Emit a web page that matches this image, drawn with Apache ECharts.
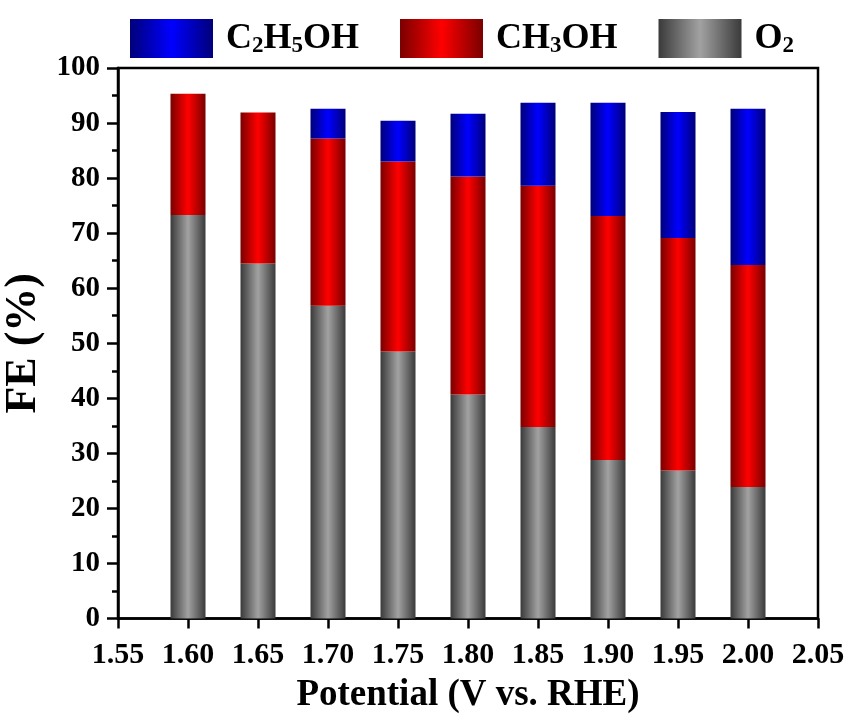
<!DOCTYPE html>
<html>
<head>
<meta charset="utf-8">
<script src="https://cdn.jsdelivr.net/npm/echarts@6/dist/echarts.min.js"></script>
<style>html,body{margin:0;padding:0;background:#fff}#c{width:850px;height:715px}</style>
</head>
<body>
<div id="c"></div>
<script>
// Data
const xTickLabels = ['1.55', '1.60', '1.65', '1.70', '1.75', '1.80', '1.85', '1.90', '1.95', '2.00', '2.05'];
const potentials = ['1.60', '1.65', '1.70', '1.75', '1.80', '1.85', '1.90', '1.95', '2.00'];
const feO2 = [73.3, 64.5, 56.8, 48.5, 40.7, 34.8, 28.8, 26.9, 23.9];
const feCH3OH = [22.0, 27.4, 30.4, 34.5, 39.6, 43.8, 44.3, 42.2, 40.3];
const feC2H5OH = [0, 0, 5.4, 7.4, 11.4, 15.1, 20.6, 22.9, 28.4];
const yTicks = [0, 100, 10];   // min, max, interval

const FONT = 'Liberation Serif';
function grad(dark, light) {
  return new echarts.graphic.LinearGradient(0, 0, 1, 0, [
    {offset: 0, color: dark}, {offset: 0.5, color: light}, {offset: 1, color: dark}
  ]);
}
function onCats(vals) {
  return xTickLabels.map(c => {
    const i = potentials.indexOf(c);
    return i < 0 ? '-' : vals[i];
  });
}

const chart = echarts.init(document.getElementById('c'), null, {renderer: 'canvas'});
const legendNames = {
  'C2H5OH': '{n|C}{s|2}{n|H}{s|5}{n|OH}',
  'CH3OH': '{n|CH}{s|3}{n|OH}',
  'O2': '{n|O}{s|2}'
};
chart.setOption({
  animation: false,
  grid: {left: 118, right: 32, top: 68, bottom: 96.5, show: true, borderColor: '#000', borderWidth: 2.5,
         containLabel: false, outerBoundsMode: 'none'},
  legend: {
    data: ['C2H5OH', 'CH3OH', 'O2'],
    left: 125, top: 14,
    icon: 'rect',
    itemWidth: 83, itemHeight: 39, itemGap: 41,
    formatter: n => legendNames[n],
    textStyle: {
      rich: {
        n: {fontFamily: FONT, fontWeight: 'bold', fontSize: 36, color: '#000'},
        s: {fontFamily: FONT, fontWeight: 'bold', fontSize: 23, color: '#000', padding: [16, 0, 0, 0]}
      },
      padding: [0, 0, 0, 8]
    }
  },
  xAxis: {
    type: 'category', data: xTickLabels, boundaryGap: false,
    name: 'Potential (V vs. RHE)', nameLocation: 'middle', nameGap: 58,
    nameTextStyle: {fontFamily: FONT, fontWeight: 'bold', fontSize: 37, color: '#000'},
    axisLine: {lineStyle: {color: '#000', width: 2.5}},
    axisTick: {length: 10, alignWithLabel: true, lineStyle: {color: '#000', width: 2.5}},
    splitLine: {show: false},
    axisLabel: {fontFamily: FONT, fontWeight: 'bold', fontSize: 30, color: '#000', margin: 22, interval: 0}
  },
  yAxis: {
    type: 'value', min: yTicks[0], max: yTicks[1], interval: yTicks[2],
    name: 'FE (%)', nameLocation: 'middle', nameGap: 62,
    nameTextStyle: {fontFamily: FONT, fontWeight: 'bold', fontSize: 44, color: '#000'},
    axisLine: {show: true, lineStyle: {color: '#000', width: 2.5}},
    axisTick: {show: true, length: 11, lineStyle: {color: '#000', width: 2.5}},
    minorTick: {show: true, splitNumber: 2, length: 6, lineStyle: {color: '#000', width: 2.5}},
    splitLine: {show: false},
    axisLabel: {fontFamily: FONT, fontWeight: 'bold', fontSize: 29, color: '#000', margin: 18}
  },
  series: [
    {name: 'O2', type: 'bar', stack: 'fe', barWidth: 35, data: onCats(feO2),
     itemStyle: {color: grad('#3a3a3a', '#a2a2a2')}},
    {name: 'CH3OH', type: 'bar', stack: 'fe', barWidth: 35, data: onCats(feCH3OH),
     itemStyle: {color: grad('#7a0000', '#ff0000')}},
    {name: 'C2H5OH', type: 'bar', stack: 'fe', barWidth: 35, data: onCats(feC2H5OH),
     itemStyle: {color: grad('#00007a', '#0000ff')}}
  ]
});
</script>
</body>
</html>
